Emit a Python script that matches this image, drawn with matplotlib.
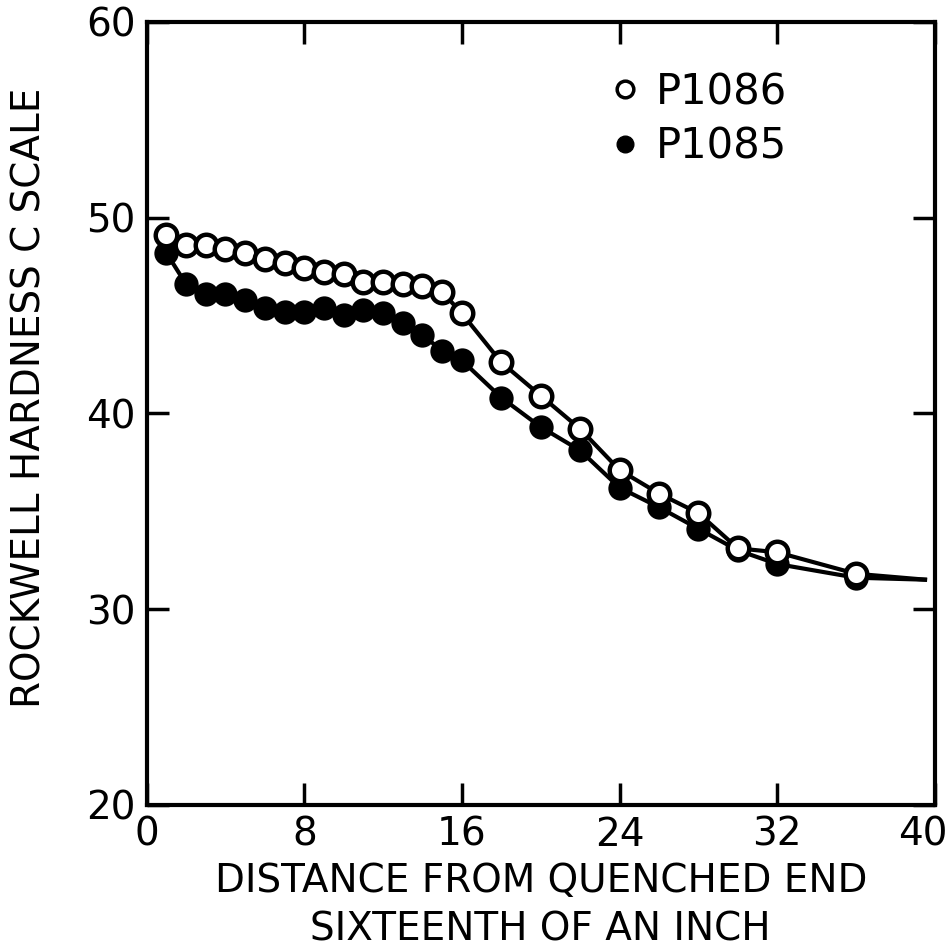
import matplotlib
matplotlib.use("Agg")
import matplotlib.pyplot as plt
from matplotlib.lines import Line2D
import matplotlib.transforms as mtransforms

# Data
x_p1086 = [1, 2, 3, 4, 5, 6, 7, 8, 9, 10, 11, 12, 13, 14, 15, 16, 18, 20, 22, 24, 26, 28, 30, 32, 36]
y_p1086 = [49.1, 48.6, 48.6, 48.4, 48.2, 47.9, 47.7, 47.4, 47.2, 47.1, 46.7, 46.7, 46.6, 46.5, 46.2,
           45.1, 42.6, 40.9, 39.2, 37.1, 35.9, 34.9, 33.1, 32.9, 31.8]
x_p1085 = [1, 2, 3, 4, 5, 6, 7, 8, 9, 10, 11, 12, 13, 14, 15, 16, 18, 20, 22, 24, 26, 28, 30, 32, 36]
y_p1085 = [48.2, 46.6, 46.1, 46.1, 45.8, 45.4, 45.2, 45.2, 45.4, 45.0, 45.3, 45.1, 44.6, 44.0, 43.2,
           42.7, 40.8, 39.3, 38.1, 36.2, 35.2, 34.1, 33.0, 32.3, 31.6]
# curve tail (faired line continues beyond last point)
tail_x = [39.5]
tail_y = [31.5]

x_ticks = [0, 8, 16, 24, 32, 40]
y_ticks = [20, 30, 40, 50, 60]

plt.rcParams['font.family'] = ['DejaVu Sans']

fig = plt.figure(figsize=(9.52, 9.49), dpi=100)
ax = fig.add_axes([0.154, 0.152, 0.828, 0.825])

lw = 3.0
ax.plot(x_p1086 + tail_x, y_p1086 + tail_y, color='black', lw=lw, zorder=2)
ax.plot(x_p1085 + tail_x, y_p1085 + tail_y, color='black', lw=lw, zorder=2)
ax.plot(x_p1085, y_p1085, 'o', ms=15.5, mfc='black', mec='black', mew=2, zorder=3, ls='none')
ax.plot(x_p1086, y_p1086, 'o', ms=15.5, mfc='white', mec='black', mew=3.2, zorder=4, ls='none')

ax.set_xlim(0, 40)
ax.set_ylim(20, 60)
ax.set_xticks(x_ticks)
ax.set_yticks(y_ticks)
ax.tick_params(direction='in', length=16, width=2.5, labelsize=28,
               top=True, right=True, pad=8)
for s in ax.spines.values():
    s.set_linewidth(3)

# shift the last x tick label a little left so it stays inside the figure
xlabels = ax.get_xticklabels()
offset = mtransforms.ScaledTranslation(-12 / 100, 0, fig.dpi_scale_trans)
xlabels[-1].set_transform(xlabels[-1].get_transform() + offset)

ax.set_xlabel("DISTANCE FROM QUENCHED END\nSIXTEENTH OF AN INCH", fontsize=28,
              linespacing=1.35, labelpad=6)
ax.set_ylabel("ROCKWELL HARDNESS C SCALE", fontsize=28)
ax.yaxis.set_label_coords(-0.125, 0.52)

handles = [Line2D([], [], ls='none', marker='o', ms=12, mfc='white', mec='black', mew=2.5),
           Line2D([], [], ls='none', marker='o', ms=12, mfc='black', mec='black')]
ax.legend(handles, ['P1086', 'P1085'], loc='upper right', bbox_to_anchor=(0.86, 0.985),
          frameon=False, fontsize=30, handletextpad=0.25, labelspacing=0.3,
          handlelength=1.0)

fig.savefig("out.png", dpi=100)
